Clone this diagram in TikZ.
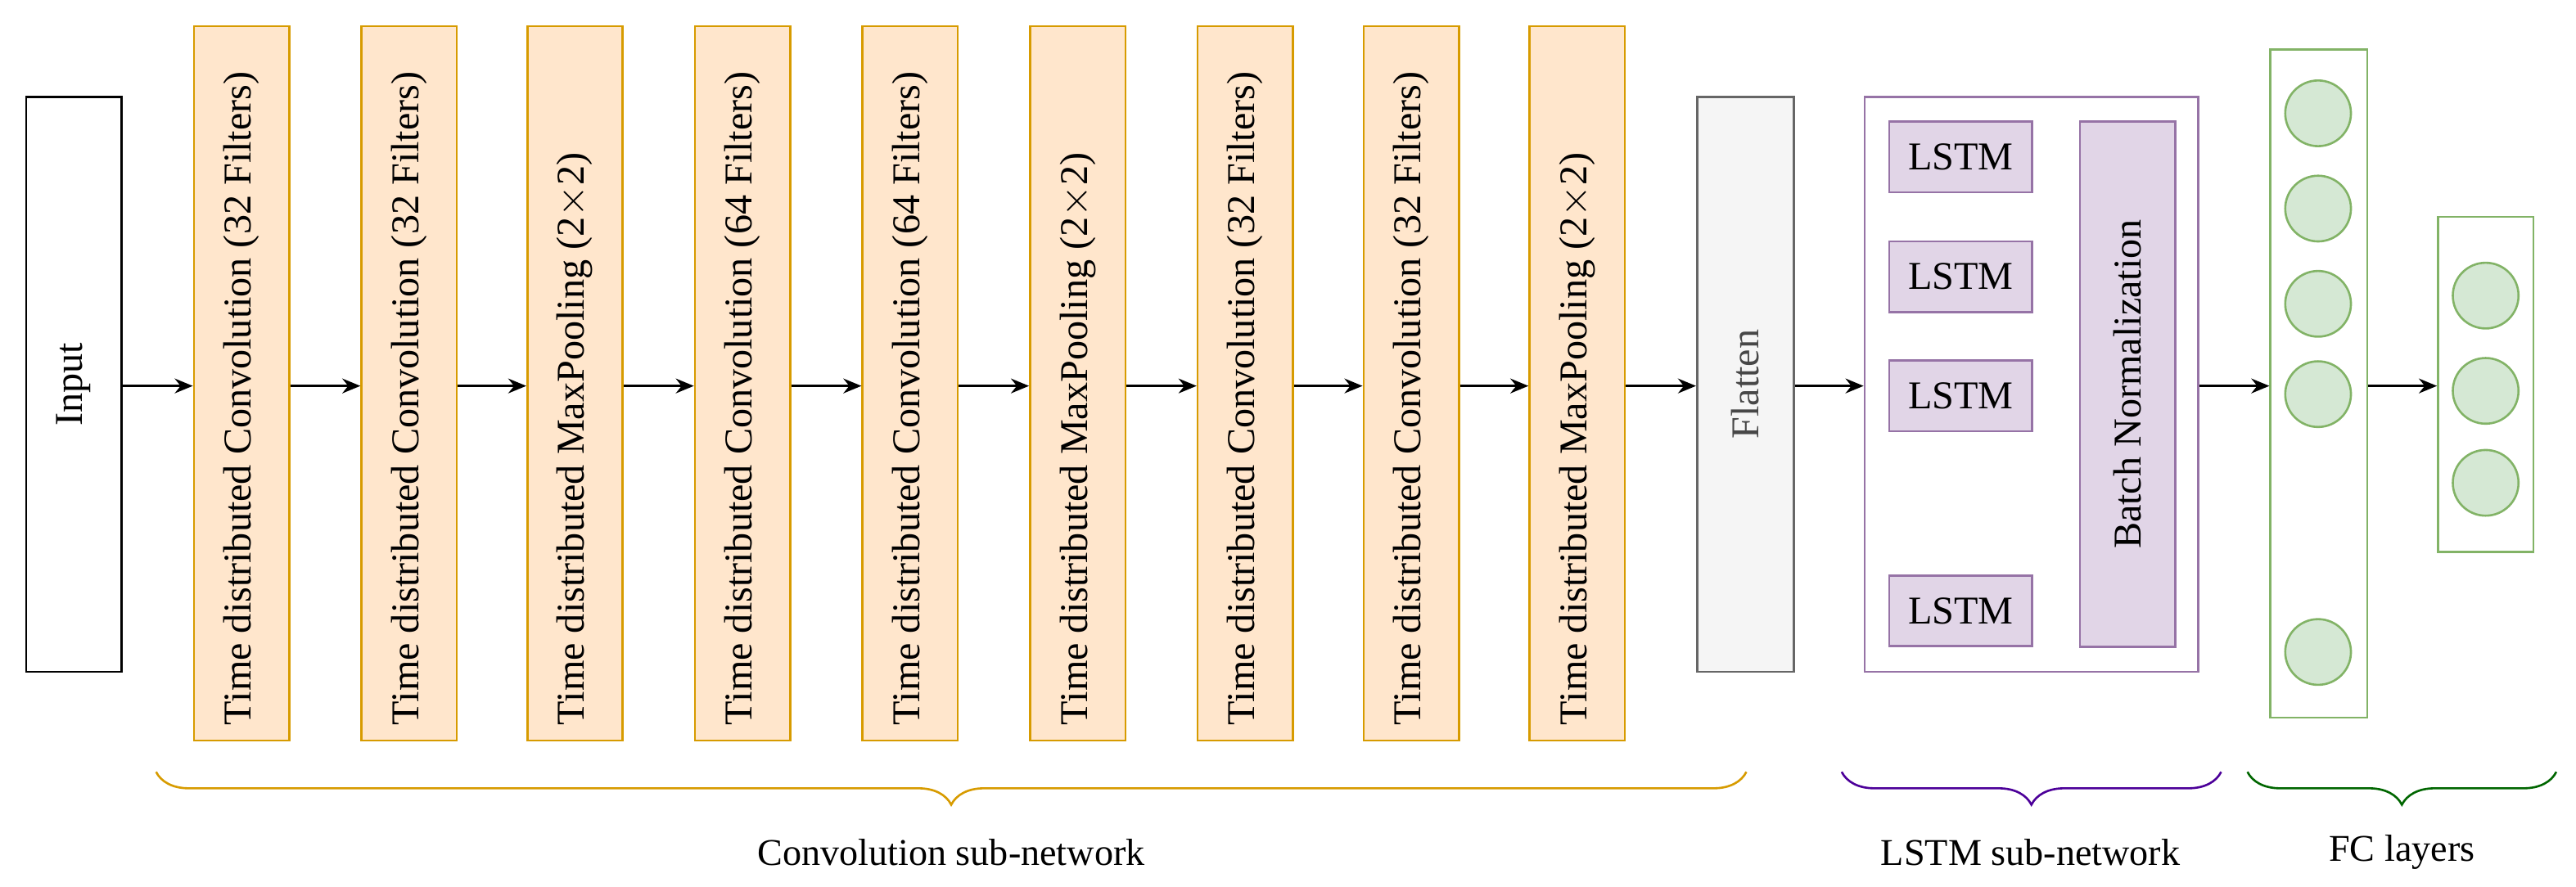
\documentclass[tikz,border=0pt]{standalone}
\usepackage{fontspec}
\setmainfont{Liberation Serif}
\usetikzlibrary{arrows.meta,decorations.pathreplacing}
\definecolor{ofill}{HTML}{FFE6CC}\definecolor{oline}{HTML}{D79B00}
\definecolor{gfill}{HTML}{D5E8D4}\definecolor{gline}{HTML}{82B366}
\definecolor{pfill}{HTML}{E1D5E7}\definecolor{pline}{HTML}{9673A6}
\definecolor{flfill}{HTML}{F5F5F5}\definecolor{flline}{HTML}{666666}
\definecolor{pbrace}{HTML}{4C0099}\definecolor{gbrace}{HTML}{006600}
\begin{document}
\begin{tikzpicture}[x=1pt,y=-1pt,
  lay/.style={draw=oline,fill=ofill,line width=1.3pt,minimum width=58pt,minimum height=435pt,inner sep=0pt},
  txt/.style={rotate=90,font=\fontsize{24}{27}\selectfont},
  arr/.style={-{Stealth[length=11pt,width=9pt]},line width=1.3pt},
  lstm/.style={draw=pline,fill=pfill,line width=1.3pt,minimum width=87pt,minimum height=43pt,font=\fontsize{24}{27}\selectfont,inner sep=0pt},
  neu/.style={circle,draw=gline,fill=gfill,line width=1.3pt,minimum size=40pt,inner sep=0pt},
  br/.style={decorate,decoration={brace,amplitude=20pt,aspect=0.5},line width=1.3pt},
  lbl/.style={font=\fontsize{23}{26}\selectfont}]
\useasboundingbox (0,0) rectangle (1568,540);
\node[draw,line width=1.3pt,minimum width=58pt,minimum height=350pt,inner sep=0pt] (in) at (45,234) {};
\node[txt] at (in) {Input};
\foreach \i/\x/\t in {1/147/Time distributed Convolution (32 Filters),2/249/Time distributed Convolution (32 Filters),3/350/Time distributed MaxPooling (2$\times$2),4/452/Time distributed Convolution (64 Filters),5/554/Time distributed Convolution (64 Filters),6/656/Time distributed MaxPooling (2$\times$2),7/758/Time distributed Convolution (32 Filters),8/859/Time distributed Convolution (32 Filters),9/960/Time distributed MaxPooling (2$\times$2)}{
  \node[lay] (c\i) at (\x,233.5) {};
  \node[txt,anchor=west] at (\x,445) {\t};
}
\node[draw=flline,fill=flfill,line width=1.3pt,minimum width=59pt,minimum height=350pt,inner sep=0pt] (fl) at (1062.5,234) {};
\node[txt,text=flline!70!black] at (fl) {Flatten};
\node[draw=pline,line width=1.3pt,minimum width=203pt,minimum height=350pt,inner sep=0pt] (ls) at (1236.5,234) {};
\node[lstm] (l1) at (1193.5,95.5) {LSTM};
\node[lstm] (l2) at (1193.5,168.5) {LSTM};
\node[lstm] (l3) at (1193.5,241) {LSTM};
\node[lstm] (l4) at (1193.5,372) {LSTM};
\node[draw=pline,fill=pfill,line width=1.3pt,minimum width=58pt,minimum height=320pt,inner sep=0pt] (bn) at (1295,234) {};
\node[txt] at (bn) {Batch Normalization};
\node[draw=gline,line width=1.3pt,minimum width=59pt,minimum height=407pt,inner sep=0pt] (f1) at (1411.5,233.5) {};
\foreach \y [count=\k] in {69,127,185,240,397} \node[neu] (n\k) at (1411,\y) {};
\node[draw=gline,line width=1.3pt,minimum width=58pt,minimum height=204pt,inner sep=0pt] (f2) at (1513,234) {};
\foreach \y [count=\k] in {180,238,294} \node[neu] (m\k) at (1513,\y) {};
\draw[arr] (in.east|-0,235) -- (c1.west|-0,235);
\foreach \a/\b in {1/2,2/3,3/4,4/5,5/6,6/7,7/8,8/9}\draw[arr] (c\a.east|-0,235) -- (c\b.west|-0,235);
\draw[arr] (c9.east|-0,235) -- (fl.west|-0,235);
\draw[arr] (fl.east|-0,235) -- (ls.west|-0,235);
\draw[arr] (ls.east|-0,235) -- (f1.west|-0,235);
\draw[arr] (f1.east|-0,235) -- (f2.west|-0,235);
\coordinate (b1a) at (95,470); \coordinate (b1b) at (1063,470);
\coordinate (b2a) at (1121,470); \coordinate (b2b) at (1352,470);
\coordinate (b3a) at (1368,470); \coordinate (b3b) at (1556,470);
\draw[br,draw=oline] (b1b) -- (b1a);
\draw[br,draw=pbrace] (b2b) -- (b2a);
\draw[br,draw=gbrace] (b3b) -- (b3a);
\node[lbl] at (579,519) {Convolution sub-network};
\node[lbl] at (1236,519) {LSTM sub-network};
\node[lbl] at (1462,519) {FC layers};
\end{tikzpicture}
\end{document}
